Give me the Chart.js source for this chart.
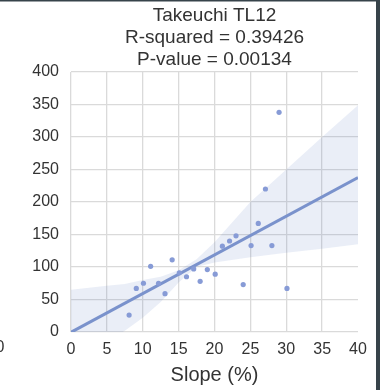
<!DOCTYPE html>
<html lang="en">
<head>
<meta charset="UTF-8">
<title>Takeuchi TL12</title>
<script src="https://cdn.jsdelivr.net/npm/chart.js"></script>
<style>
  html, body { margin: 0; padding: 0; background: #fff; }
  #wrap { width: 380px; height: 390px; position: relative; }
</style>
</head>
<body>
<div id="wrap"><canvas id="myChart" width="380" height="390"></canvas></div>
<script>
// scatter data
const slope = [8.1, 9.1, 10.1, 11.1, 12.2, 13.1, 14.1, 15.1, 16.1, 17.1, 18.0, 19.0, 20.1, 21.1, 22.1, 23.0, 24.0, 25.1, 26.1, 27.1, 28.0, 29.0, 30.1];
const values = [26, 67, 75, 101, 75, 59, 111, 91, 85, 97, 78, 96, 89, 132, 140, 148, 73, 133, 167, 220, 133, 338, 67];

// confidence band edges
const bandX = [0, 5, 7.5, 10, 12.5, 15, 17.5, 20, 25, 30, 35, 40];
const bandUpper = [65, 71, 74, 80, 85, 95, 112, 138, 200, 250, 300, 349];
const bandLower = [-50, -15, 2, 22, 46, 76, 100, 107, 115, 122, 128, 135];

const titleLines = ['Takeuchi TL12', 'R-squared = 0.39426', 'P-value = 0.00134'];
const xTicks = [0, 5, 10, 15, 20, 25, 30, 35, 40];
const yTicks = [0, 50, 100, 150, 200, 250, 300, 350, 400];

// least squares fit
function fitLine(xs, ys) {
    const n = xs.length;
    const mx = xs.reduce((a, b) => a + b, 0) / n;
    const my = ys.reduce((a, b) => a + b, 0) / n;
    let sxy = 0, sxx = 0;
    for (let i = 0; i < n; i++) {
        sxy += (xs[i] - mx) * (ys[i] - my);
        sxx += (xs[i] - mx) * (xs[i] - mx);
    }
    const b = sxy / sxx;
    return { b: b, a: my - b * mx };
}
const fit = fitLine(slope, values);
const fitPts = [0, 40].map(x => ({ x: x, y: fit.a + fit.b * x }));

const FONT = "'Liberation Sans', Arial, sans-serif";
const TEXT = '#333333';

const decorPlugin = {
    id: 'decor',
    beforeDraw: (chart) => {
        const c = chart.ctx;
        c.save();
        c.fillStyle = '#ffffff';
        c.fillRect(0, 0, chart.width, chart.height);
        c.restore();
    },
    afterDraw: (chart) => {
        const c = chart.ctx;
        const area = chart.chartArea;
        c.save();
        c.fillStyle = TEXT;
        c.font = '19px ' + FONT;
        c.textAlign = 'center';
        c.textBaseline = 'middle';
        const cx = (area.left + area.right) / 2;
        titleLines.forEach((t, i) => c.fillText(t, cx, 16 + i * 22));
        // cut-off tick label of the neighbouring panel
        c.font = '16px ' + FONT;
        c.textAlign = 'left';
        c.fillText('0', -4.5, 348);
        // dark frame
        c.fillStyle = '#37434a';
        c.fillRect(0, 0, chart.width, 1.5);
        c.fillRect(376, 0, 4, chart.height);
        c.restore();
    }
};

new Chart(document.getElementById('myChart'), {
    type: 'scatter',
    data: {
        datasets: [
            {
                label: 'upper',
                type: 'line',
                data: bandX.map((x, i) => ({ x: x, y: bandUpper[i] })),
                borderWidth: 0,
                pointRadius: 0,
                backgroundColor: 'rgba(95, 120, 195, 0.13)',
                fill: '+1',
                order: 3
            },
            {
                label: 'lower',
                type: 'line',
                data: bandX.map((x, i) => ({ x: x, y: bandLower[i] })),
                borderWidth: 0,
                pointRadius: 0,
                fill: false,
                order: 3
            },
            {
                label: 'fit',
                type: 'line',
                data: fitPts,
                borderColor: 'rgb(122, 146, 204)',
                borderWidth: 3,
                pointRadius: 0,
                fill: false,
                order: 2
            },
            {
                label: 'data',
                data: slope.map((x, i) => ({ x: x, y: values[i] })),
                backgroundColor: 'rgb(135, 155, 214)',
                borderWidth: 0,
                pointRadius: 2.6,
                order: 1
            }
        ]
    },
    options: {
        responsive: false,
        animation: false,
        events: [],
        layout: { padding: { top: 72, right: 22, left: 0, bottom: 0 } },
        plugins: {
            legend: { display: false },
            tooltip: { enabled: false },
            title: { display: false }
        },
        scales: {
            x: {
                type: 'linear',
                min: 0,
                max: 40,
                afterBuildTicks: (s) => { s.ticks = xTicks.map(v => ({ value: v })); },
                afterFit: (s) => { s.height = 58; },
                grid: {
                    color: (ctx) => ctx.tick && ctx.tick.value === 40 ? 'rgba(0,0,0,0)' : '#dadada',
                    lineWidth: 1.3,
                    drawTicks: false
                },
                border: { display: false },
                ticks: { color: TEXT, font: { family: FONT, size: 16 }, padding: 8, maxRotation: 0 },
                title: {
                    display: true,
                    text: 'Slope (%)',
                    color: TEXT,
                    font: { family: FONT, size: 20 },
                    padding: { top: 0, bottom: 3 }
                }
            },
            y: {
                type: 'linear',
                min: 0,
                max: 400,
                afterBuildTicks: (s) => { s.ticks = yTicks.map(v => ({ value: v })); },
                afterFit: (s) => { s.width = 71; },
                grid: { color: '#dadada', lineWidth: 1.3, drawTicks: false },
                border: { display: false },
                ticks: { color: TEXT, font: { family: FONT, size: 16 }, padding: 12 }
            }
        }
    },
    plugins: [decorPlugin]
});
</script>
</body>
</html>
